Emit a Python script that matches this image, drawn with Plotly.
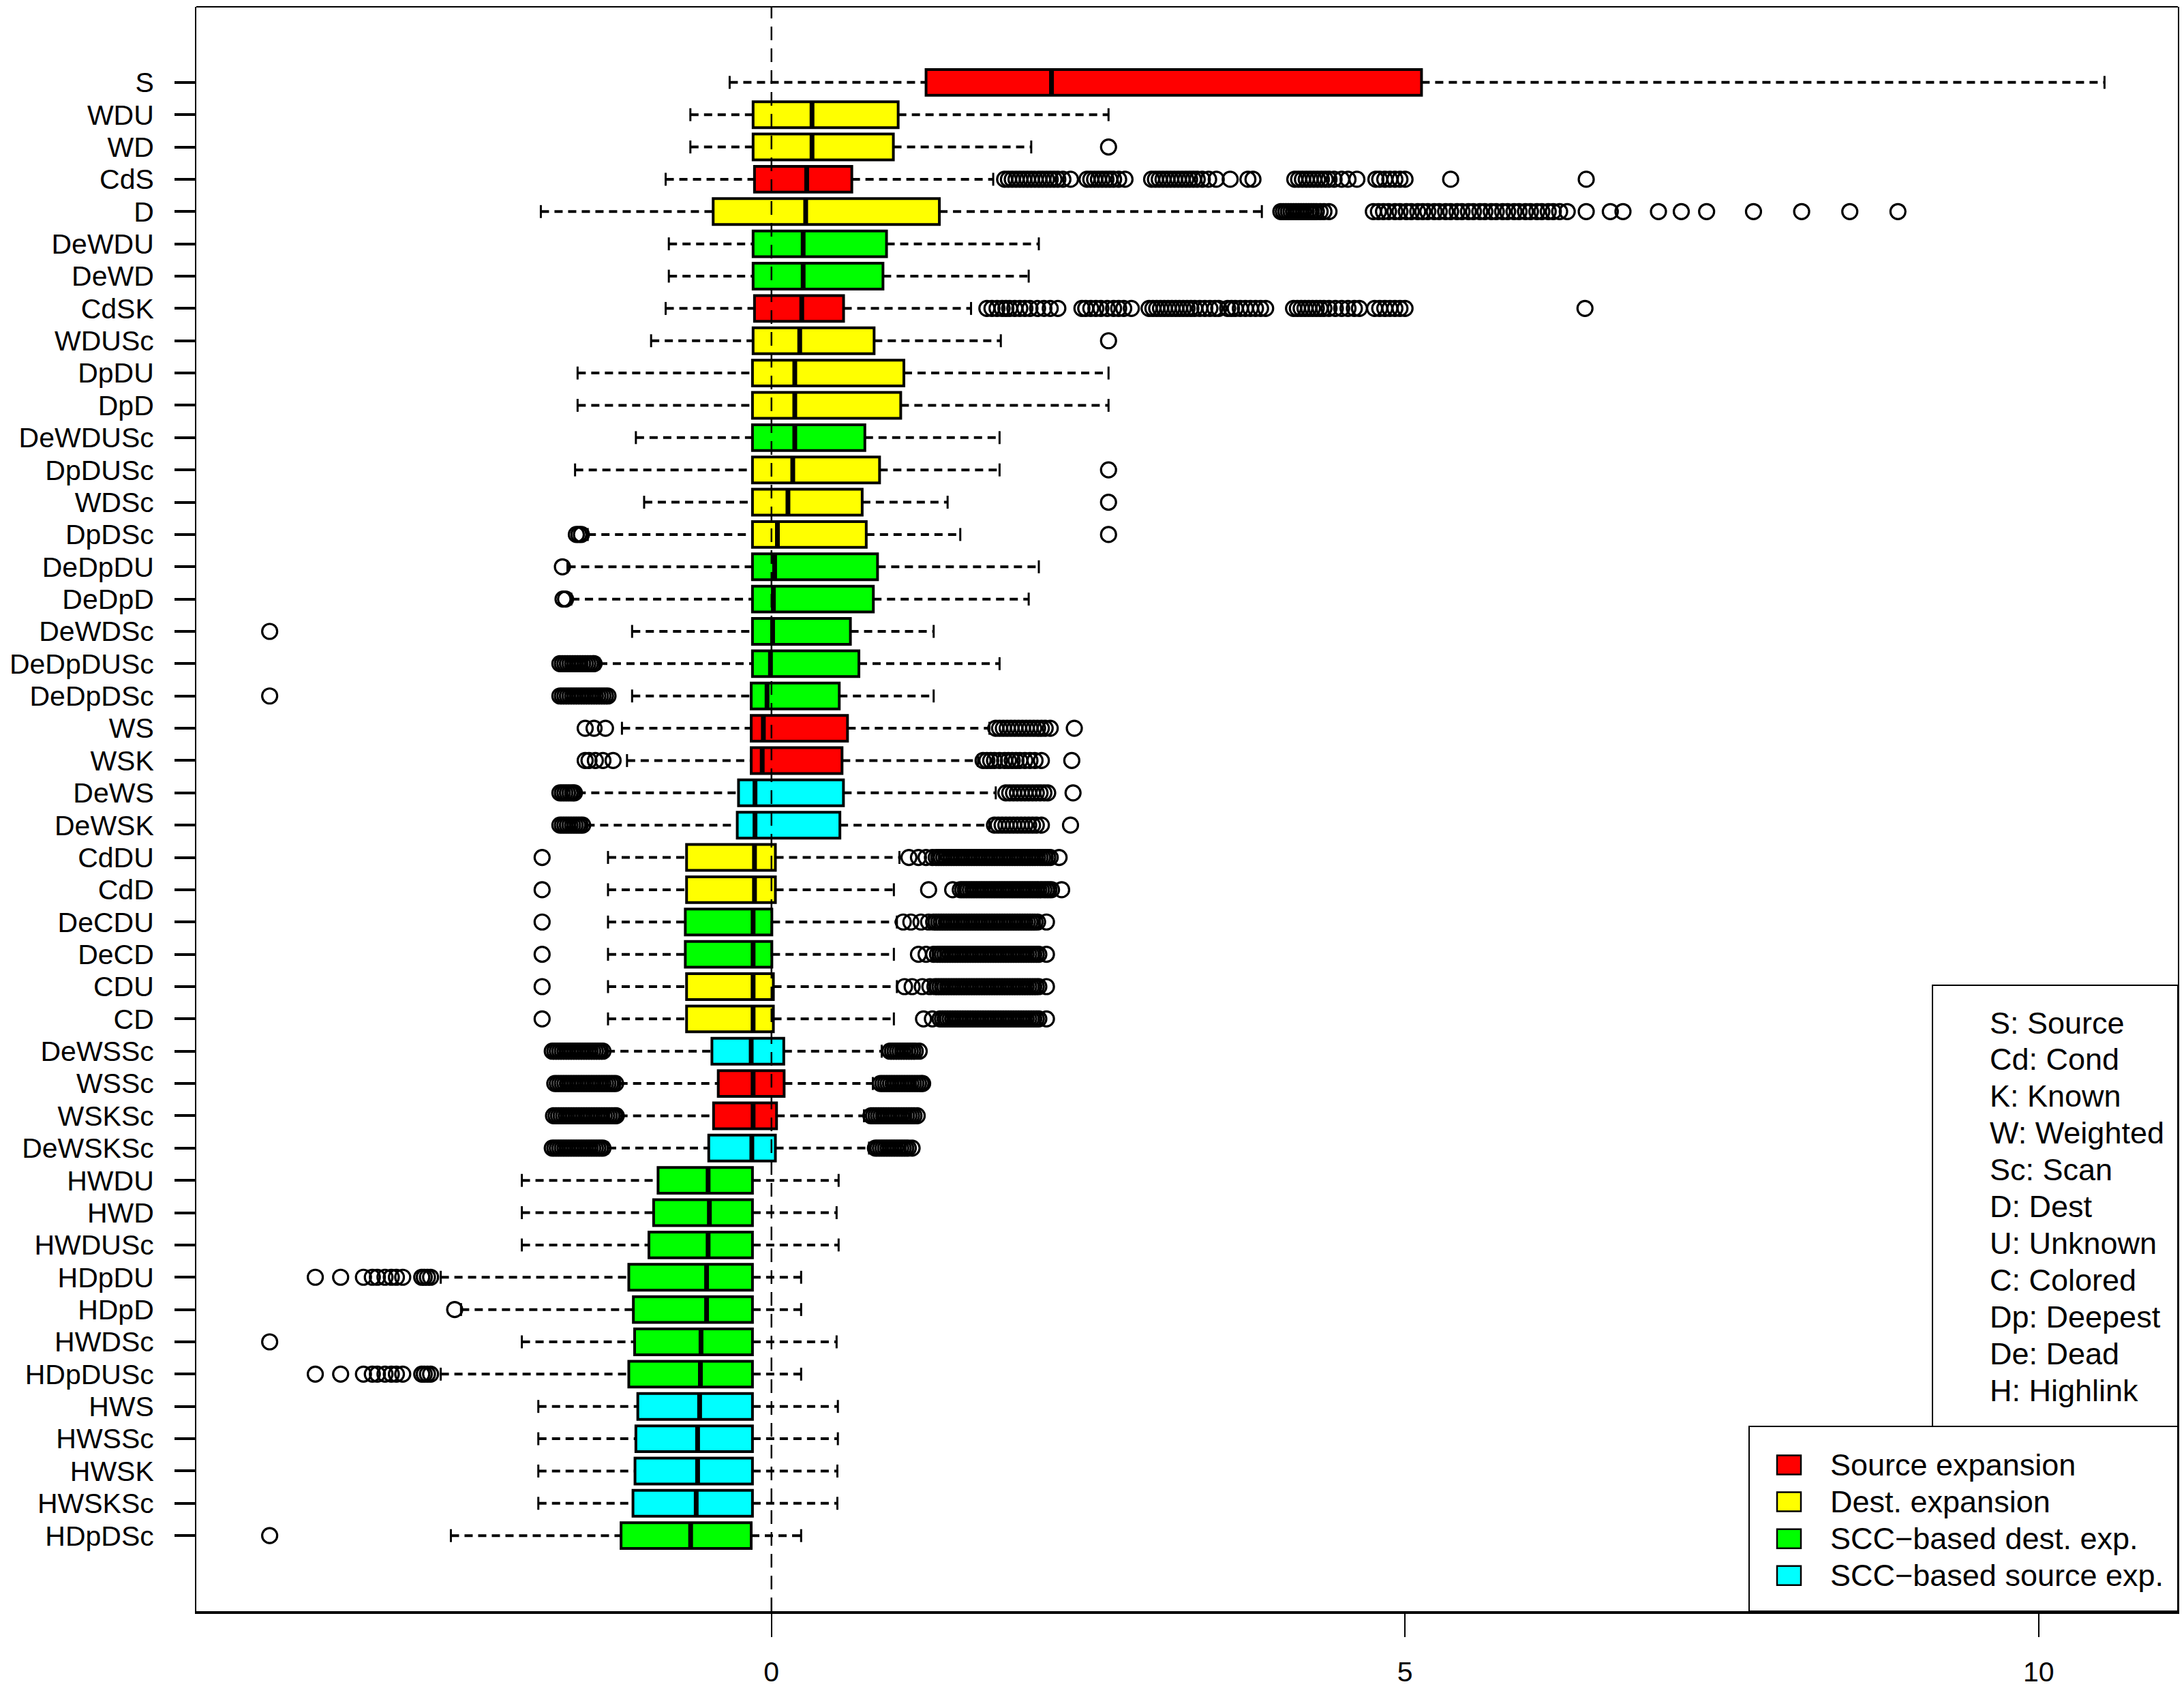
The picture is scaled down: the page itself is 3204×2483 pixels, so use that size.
import plotly.graph_objects as go

# ---------------- data ----------------
categories = ["S", "WDU", "WD", "CdS", "D", "DeWDU", "DeWD", "CdSK", "WDUSc", "DpDU",
              "DpD", "DeWDUSc", "DpDUSc", "WDSc", "DpDSc", "DeDpDU", "DeDpD", "DeWDSc",
              "DeDpDUSc", "DeDpDSc", "WS", "WSK", "DeWS", "DeWSK", "CdDU", "CdD", "DeCDU",
              "DeCD", "CDU", "CD", "DeWSSc", "WSSc", "WSKSc", "DeWSKSc", "HWDU", "HWD",
              "HWDUSc", "HDpDU", "HDpD", "HWDSc", "HDpDUSc", "HWS", "HWSSc", "HWSK",
              "HWSKSc", "HDpDSc"]

groups = ["src", "dst", "dst", "src", "dst", "sccd", "sccd", "src", "dst", "dst",
          "dst", "sccd", "dst", "dst", "dst", "sccd", "sccd", "sccd",
          "sccd", "sccd", "src", "src", "sccs", "sccs", "dst", "dst", "sccd",
          "sccd", "dst", "dst", "sccs", "src", "src", "sccs", "sccd", "sccd",
          "sccd", "sccd", "sccd", "sccd", "sccd", "sccs", "sccs", "sccs",
          "sccs", "sccd"]

whisk_lo = [-0.33, -0.64, -0.64, -0.835, -1.82, -0.81, -0.81, -0.835, -0.95, -1.53,
            -1.53, -1.07, -1.55, -1.005, -1.45, -1.61, -1.58, -1.10,
            -1.36, -1.10, -1.18, -1.14, -1.53, -1.46, -1.29, -1.29, -1.29,
            -1.29, -1.29, -1.29, -1.30, -1.20, -1.20, -1.29, -1.97, -1.97,
            -1.97, -2.61, -2.45, -1.97, -2.61, -1.84, -1.84, -1.84,
            -1.84, -2.53]

q1 = [1.22, -0.145, -0.145, -0.134, -0.46, -0.145, -0.145, -0.134, -0.145, -0.15,
      -0.15, -0.15, -0.15, -0.15, -0.15, -0.15, -0.15, -0.15,
      -0.15, -0.16, -0.16, -0.16, -0.26, -0.27, -0.67, -0.67, -0.68,
      -0.68, -0.67, -0.67, -0.47, -0.42, -0.457, -0.495, -0.895, -0.93,
      -0.967, -1.126, -1.09, -1.08, -1.126, -1.055, -1.07, -1.077,
      -1.093, -1.187]

medians = [2.21, 0.32, 0.32, 0.278, 0.27, 0.25, 0.25, 0.239, 0.223, 0.184,
           0.184, 0.184, 0.168, 0.13, 0.047, 0.025, 0.015, 0.009,
           -0.008, -0.035, -0.064, -0.073, -0.13, -0.13, -0.134, -0.134, -0.145,
           -0.145, -0.145, -0.145, -0.16, -0.145, -0.145, -0.155, -0.50, -0.49,
           -0.50, -0.512, -0.512, -0.556, -0.561, -0.567, -0.583, -0.583,
           -0.594, -0.638]

q3 = [5.13, 1.00, 0.962, 0.634, 1.325, 0.908, 0.88, 0.569, 0.81, 1.045,
      1.02, 0.737, 0.853, 0.716, 0.748, 0.837, 0.804, 0.623,
      0.69, 0.535, 0.60, 0.557, 0.568, 0.54, 0.031, 0.031, 0.003,
      0.003, 0.015, 0.015, 0.097, 0.10, 0.04, 0.031, -0.15, -0.15,
      -0.15, -0.15, -0.15, -0.15, -0.15, -0.15, -0.15, -0.15,
      -0.15, -0.16]

whisk_hi = [10.52, 2.66, 2.05, 1.75, 3.87, 2.11, 2.03, 1.575, 1.81, 2.66,
            2.66, 1.80, 1.80, 1.39, 1.49, 2.11, 2.03, 1.28,
            1.80, 1.28, 1.72, 1.63, 1.77, 1.72, 1.01, 0.966, 0.99,
            0.966, 0.99, 0.966, 0.87, 0.80, 0.73, 0.77, 0.53, 0.514,
            0.53, 0.234, 0.234, 0.514, 0.234, 0.524, 0.524, 0.52,
            0.52, 0.234]

outliers = [
    [],  # S
    [],  # WDU
    [2.66],  # WD
    [1.84, 1.87, 1.90, 1.93, 1.96, 1.99, 2.02, 2.05, 2.08, 2.11, 2.14, 2.17, 2.20, 2.23,
     2.26, 2.30, 2.36, 2.49, 2.52, 2.55, 2.58, 2.61, 2.64, 2.67, 2.70, 2.74, 2.79, 3.00,
     3.03, 3.06, 3.09, 3.12, 3.15, 3.18, 3.21, 3.24, 3.27, 3.30, 3.33, 3.36, 3.40, 3.45,
     3.51, 3.62, 3.76, 3.80, 4.13, 4.16, 4.19, 4.22, 4.25, 4.28, 4.31, 4.34, 4.37, 4.40,
     4.44, 4.50, 4.55, 4.62, 4.77, 4.80, 4.84, 4.88, 4.92, 4.96, 5.00, 5.36, 6.43],  # CdS
    [4.02, 4.04, 4.06, 4.08, 4.10, 4.12, 4.14, 4.16, 4.18, 4.20, 4.22, 4.24, 4.26, 4.28,
     4.30, 4.33, 4.36, 4.40, 4.75, 4.79, 4.83, 4.87, 4.92, 4.96, 5.01, 5.05, 5.10, 5.14,
     5.18, 5.23, 5.27, 5.32, 5.36, 5.41, 5.45, 5.50, 5.54, 5.59, 5.63, 5.68, 5.72, 5.77,
     5.81, 5.86, 5.90, 5.95, 5.99, 6.04, 6.08, 6.13, 6.17, 6.22, 6.28,
     6.43, 6.62, 6.72, 7.00, 7.18, 7.38, 7.75, 8.13, 8.51, 8.89],  # D
    [],  # DeWDU
    [],  # DeWD
    [1.70, 1.74, 1.78, 1.82, 1.85, 1.88, 1.92, 1.96, 2.00, 2.04, 2.10, 2.15, 2.20, 2.26,
     2.45, 2.48, 2.52, 2.56, 2.60, 2.65, 2.70, 2.74, 2.78, 2.84, 2.98, 3.01, 3.04, 3.07,
     3.10, 3.13, 3.16, 3.19, 3.22, 3.25, 3.28, 3.31, 3.34, 3.38, 3.42, 3.46, 3.50, 3.53,
     3.60, 3.63, 3.66, 3.70, 3.74, 3.78, 3.82, 3.86, 3.90, 4.12, 4.15, 4.18, 4.21, 4.24,
     4.27, 4.30, 4.33, 4.36, 4.40, 4.45, 4.50, 4.55, 4.60, 4.64, 4.76, 4.80, 4.84, 4.88,
     4.92, 4.96, 5.00, 6.42],  # CdSK
    [2.66],  # WDUSc
    [],  # DpDU
    [],  # DpD
    [],  # DeWDUSc
    [2.66],  # DpDUSc
    [2.66],  # WDSc
    [-1.54, -1.52, -1.50, 2.66],  # DpDSc
    [-1.65],  # DeDpDU
    [-1.645, -1.625],  # DeDpD
    [-3.96],  # DeWDSc
    [-1.67, -1.65, -1.63, -1.61, -1.59, -1.57, -1.55, -1.53, -1.51, -1.49, -1.47, -1.45,
     -1.43, -1.41, -1.40],  # DeDpDUSc
    [-3.96, -1.67, -1.65, -1.63, -1.61, -1.59, -1.57, -1.55, -1.53, -1.51, -1.49, -1.47,
     -1.45, -1.43, -1.41, -1.39, -1.37, -1.35, -1.33, -1.31, -1.29],  # DeDpDSc
    [-1.47, -1.40, -1.31, 1.77, 1.80, 1.83, 1.86, 1.89, 1.92, 1.95, 1.98, 2.01, 2.04, 2.07,
     2.10, 2.13, 2.16, 2.20, 2.39],  # WS
    [-1.47, -1.44, -1.39, -1.33, -1.25, 1.67, 1.70, 1.73, 1.76, 1.80, 1.84, 1.87, 1.90,
     1.93, 1.96, 2.00, 2.04, 2.08, 2.13, 2.37],  # WSK
    [-1.67, -1.65, -1.63, -1.61, -1.59, -1.57, -1.555, 1.85, 1.88, 1.91, 1.94, 1.97, 2.00,
     2.03, 2.06, 2.09, 2.12, 2.15, 2.18, 2.38],  # DeWS
    [-1.67, -1.65, -1.63, -1.61, -1.59, -1.57, -1.55, -1.53, -1.51, -1.49, 1.76, 1.79,
     1.82, 1.85, 1.88, 1.91, 1.94, 1.97, 2.00, 2.03, 2.06, 2.09, 2.13, 2.36],  # DeWSK
    [-1.81, 1.085, 1.16, 1.22, 1.27, 1.30, 1.32, 1.34, 1.36, 1.38, 1.40, 1.42, 1.44, 1.46,
     1.48, 1.50, 1.52, 1.54, 1.56, 1.58, 1.60, 1.62, 1.64, 1.66, 1.68, 1.70, 1.72, 1.74,
     1.76, 1.78, 1.80, 1.82, 1.84, 1.86, 1.88, 1.90, 1.92, 1.94, 1.96, 1.98, 2.00, 2.02,
     2.04, 2.06, 2.08, 2.10, 2.12, 2.14, 2.16, 2.18, 2.20, 2.27],  # CdDU
    [-1.81, 1.24, 1.43, 1.49, 1.51, 1.53, 1.55, 1.57, 1.59, 1.61, 1.63, 1.65, 1.67, 1.69,
     1.71, 1.73, 1.75, 1.77, 1.79, 1.81, 1.83, 1.85, 1.87, 1.89, 1.91, 1.93, 1.95, 1.97,
     1.99, 2.01, 2.03, 2.05, 2.07, 2.09, 2.11, 2.13, 2.15, 2.17, 2.19, 2.21, 2.29],  # CdD
    [-1.81, 1.04, 1.10, 1.18, 1.24, 1.28, 1.30, 1.32, 1.34, 1.36, 1.38, 1.40, 1.42, 1.44,
     1.46, 1.48, 1.50, 1.52, 1.54, 1.56, 1.58, 1.60, 1.62, 1.64, 1.66, 1.68, 1.70, 1.72,
     1.74, 1.76, 1.78, 1.80, 1.82, 1.84, 1.86, 1.88, 1.90, 1.92, 1.94, 1.96, 1.98, 2.00,
     2.02, 2.04, 2.06, 2.08, 2.10, 2.17],  # DeCDU
    [-1.81, 1.16, 1.22, 1.28, 1.31, 1.33, 1.35, 1.37, 1.39, 1.41, 1.43, 1.45, 1.47, 1.49,
     1.51, 1.53, 1.55, 1.57, 1.59, 1.61, 1.63, 1.65, 1.67, 1.69, 1.71, 1.73, 1.75, 1.77,
     1.79, 1.81, 1.83, 1.85, 1.87, 1.89, 1.91, 1.93, 1.95, 1.97, 1.99, 2.01, 2.03, 2.05,
     2.07, 2.09, 2.11, 2.17],  # DeCD
    [-1.81, 1.05, 1.11, 1.19, 1.25, 1.29, 1.31, 1.33, 1.35, 1.37, 1.39, 1.41, 1.43, 1.45,
     1.47, 1.49, 1.51, 1.53, 1.55, 1.57, 1.59, 1.61, 1.63, 1.65, 1.67, 1.69, 1.71, 1.73,
     1.75, 1.77, 1.79, 1.81, 1.83, 1.85, 1.87, 1.89, 1.91, 1.93, 1.95, 1.97, 1.99, 2.01,
     2.03, 2.05, 2.07, 2.09, 2.11, 2.17],  # CDU
    [-1.81, 1.20, 1.27, 1.33, 1.35, 1.37, 1.39, 1.41, 1.43, 1.45, 1.47, 1.49, 1.51, 1.53,
     1.55, 1.57, 1.59, 1.61, 1.63, 1.65, 1.67, 1.69, 1.71, 1.73, 1.75, 1.77, 1.79, 1.81,
     1.83, 1.85, 1.87, 1.89, 1.91, 1.93, 1.95, 1.97, 1.99, 2.01, 2.03, 2.05, 2.07, 2.09,
     2.11, 2.17],  # CD
    [-1.73, -1.71, -1.69, -1.67, -1.65, -1.63, -1.61, -1.59, -1.57, -1.55, -1.53, -1.51,
     -1.49, -1.47, -1.45, -1.43, -1.41, -1.39, -1.37, -1.35, -1.33, 0.935, 0.955, 0.975,
     0.995, 1.015, 1.035, 1.055, 1.075, 1.095, 1.115, 1.135, 1.166],  # DeWSSc
    [-1.71, -1.69, -1.67, -1.65, -1.63, -1.61, -1.59, -1.57, -1.55, -1.53, -1.51, -1.49,
     -1.47, -1.45, -1.43, -1.41, -1.39, -1.37, -1.35, -1.33, -1.31, -1.29, -1.27, -1.25,
     -1.23, 0.86, 0.88, 0.90, 0.92, 0.94, 0.96, 0.98, 1.00, 1.02, 1.04, 1.06, 1.08, 1.10,
     1.12, 1.14, 1.16, 1.18, 1.193],  # WSSc
    [-1.72, -1.70, -1.68, -1.66, -1.64, -1.62, -1.60, -1.58, -1.56, -1.54, -1.52, -1.50,
     -1.48, -1.46, -1.44, -1.42, -1.40, -1.38, -1.36, -1.34, -1.32, -1.30, -1.28, -1.26,
     -1.24, -1.225, 0.785, 0.805, 0.825, 0.845, 0.865, 0.885, 0.905, 0.925, 0.945, 0.965,
     0.985, 1.005, 1.025, 1.045, 1.065, 1.085, 1.105, 1.125, 1.15],  # WSKSc
    [-1.73, -1.71, -1.69, -1.67, -1.65, -1.63, -1.61, -1.59, -1.57, -1.55, -1.53, -1.51,
     -1.49, -1.47, -1.45, -1.43, -1.41, -1.39, -1.37, -1.35, -1.33, 0.82, 0.84, 0.86,
     0.88, 0.90, 0.92, 0.94, 0.96, 0.98, 1.00, 1.02, 1.04, 1.06, 1.08, 1.11],  # DeWSKSc
    [],  # HWDU
    [],  # HWD
    [],  # HWDUSc
    [-3.60, -3.40, -3.22, -3.15, -3.11, -3.05, -3.00, -2.96, -2.91, -2.76, -2.74,
     -2.715, -2.69],  # HDpDU
    [-2.50],  # HDpD
    [-3.96],  # HWDSc
    [-3.60, -3.40, -3.22, -3.15, -3.11, -3.05, -3.00, -2.96, -2.91, -2.76, -2.74,
     -2.715, -2.69],  # HDpDUSc
    [],  # HWS
    [],  # HWSSc
    [],  # HWSK
    [],  # HWSKSc
    [-3.96],  # HDpDSc
]

x_ticks = [0, 5, 10]

abbrev_notes = ["S: Source", "Cd: Cond", "K: Known", "W: Weighted", "Sc: Scan", "D: Dest",
                "U: Unknown", "C: Colored", "Dp: Deepest", "De: Dead", "H: Highlink"]
legend_groups = ["src", "dst", "sccd", "sccs"]
legend_labels = ["Source expansion", "Dest. expansion", "SCC\u2212based dest. exp.",
                 "SCC\u2212based source exp."]

# ---------------- style ----------------
group_color = {"src": "#FF0000", "dst": "#FFFF00", "sccd": "#00FF00", "sccs": "#00FFFF"}
FONT = "Liberation Sans, Arial, Helvetica, sans-serif"
W, H = 3204, 2483
PL, PR, PT, PB = 288, 3195, 10, 2363          # plot area in page pixels
ML, MR, MT, MB = PL, W - PR, PT, H - PB
n = len(categories)
pos = [n - i for i in range(n)]
BOXHALF = 0.4
CAPHALF = 0.2

fig = go.Figure()

# boxes
fig.add_trace(go.Bar(
    y=pos, x=[b - a for a, b in zip(q1, q3)], base=q1, orientation="h", width=2 * BOXHALF,
    marker=dict(color=[group_color[g] for g in groups], line=dict(color="black", width=4)),
    showlegend=False, hoverinfo="skip"))

# whiskers (dashed)
wx, wy = [], []
for p, lo, a, b, hi in zip(pos, whisk_lo, q1, q3, whisk_hi):
    wx += [lo, a, None, b, hi, None]
    wy += [p, p, None, p, p, None]
fig.add_trace(go.Scatter(x=wx, y=wy, mode="lines",
                         line=dict(color="black", width=4, dash="12px,8px"),
                         showlegend=False, hoverinfo="skip"))

# staples
cx, cy = [], []
for p, lo, hi in zip(pos, whisk_lo, whisk_hi):
    cx += [lo, lo, None, hi, hi, None]
    cy += [p - CAPHALF, p + CAPHALF, None, p - CAPHALF, p + CAPHALF, None]
fig.add_trace(go.Scatter(x=cx, y=cy, mode="lines", line=dict(color="black", width=3),
                         showlegend=False, hoverinfo="skip"))

# medians
mx, my = [], []
for p, m in zip(pos, medians):
    mx += [m, m, None]
    my += [p - BOXHALF, p + BOXHALF, None]
fig.add_trace(go.Scatter(x=mx, y=my, mode="lines", line=dict(color="black", width=7),
                         showlegend=False, hoverinfo="skip"))

# outliers
ox, oy = [], []
for p, outs in zip(pos, outliers):
    ox += outs
    oy += [p] * len(outs)
fig.add_trace(go.Scatter(x=ox, y=oy, mode="markers",
                         marker=dict(symbol="circle-open", size=22, color="black",
                                     line=dict(color="black", width=3.2)),
                         showlegend=False, hoverinfo="skip"))

# ---------------- decorations ----------------
PW = PR - PL
PH = PB - PT


def px(xp):
    return (xp - PL) / PW


def py(yp):
    return (PB - yp) / PH


shapes = [
    dict(type="line", xref="x", yref="paper", x0=0, x1=0, y0=0, y1=1, layer="above",
         line=dict(color="black", width=2.5, dash="20px,12px")),
    dict(type="line", xref="paper", yref="paper", x0=0, x1=1, y0=1, y1=1,
         line=dict(color="black", width=2)),
    dict(type="rect", xref="paper", yref="paper", x0=px(2835), x1=px(3195), y0=py(2092),
         y1=py(1445), fillcolor="white", layer="above", line=dict(color="black", width=2)),
    dict(type="rect", xref="paper", yref="paper", x0=px(2566), x1=px(3195), y0=py(2363),
         y1=py(2092), fillcolor="white", layer="above", line=dict(color="black", width=2)),
]
annotations = []
for k, t in enumerate(abbrev_notes):
    annotations.append(dict(xref="paper", yref="paper", x=px(2917), y=py(1500 + 53.9 * k),
                            text=t, showarrow=False, xanchor="left", yanchor="middle",
                            font=dict(family=FONT, size=45, color="black")))
for k, (g, t) in enumerate(zip(legend_groups, legend_labels)):
    yc = 2148.5 + 54.1 * k
    shapes.append(dict(type="rect", xref="paper", yref="paper", x0=px(2607), x1=px(2642),
                       y0=py(yc + 14), y1=py(yc - 14), fillcolor=group_color[g],
                       layer="above", line=dict(color="black", width=2.5)))
    annotations.append(dict(xref="paper", yref="paper", x=px(2683), y=py(yc),
                            text=t, showarrow=False, xanchor="left", yanchor="middle",
                            font=dict(family=FONT, size=45, color="black")))

fig.update_layout(
    width=W, height=H,
    margin=dict(l=ML, r=MR, t=MT, b=MB, pad=0, autoexpand=False),
    paper_bgcolor="white", plot_bgcolor="white",
    font=dict(family=FONT, size=41, color="black"),
    barmode="overlay",
    showlegend=False,
    shapes=shapes, annotations=annotations,
    xaxis=dict(range=[-4.539, 11.099], tickvals=x_ticks, ticktext=[str(v) for v in x_ticks],
               automargin=False,
               showgrid=False, zeroline=False, showline=True, linecolor="black", linewidth=4,
               ticks="outside", ticklen=34, tickwidth=2, tickcolor="black",
               ticklabelstandoff=16, tickfont=dict(family=FONT, size=41, color="black")),
    yaxis=dict(range=[-1.34, 48.34], tickvals=pos, ticktext=categories,
               automargin=False,
               showgrid=False, zeroline=False, showline=True, mirror=True,
               linecolor="black", linewidth=2,
               ticks="outside", ticklen=30, tickwidth=4, tickcolor="black",
               ticklabelstandoff=22, tickfont=dict(family=FONT, size=41, color="black")),
)

# remove the default page margin so the 3204x2483 figure fills the window exactly
page_fix = ("document.documentElement.style.margin='0';"
            "document.documentElement.style.overflow='hidden';"
            "document.body.style.margin='0';document.body.style.overflow='hidden';")
fig.write_html("out.html", post_script=page_fix, config={"displayModeBar": False})
